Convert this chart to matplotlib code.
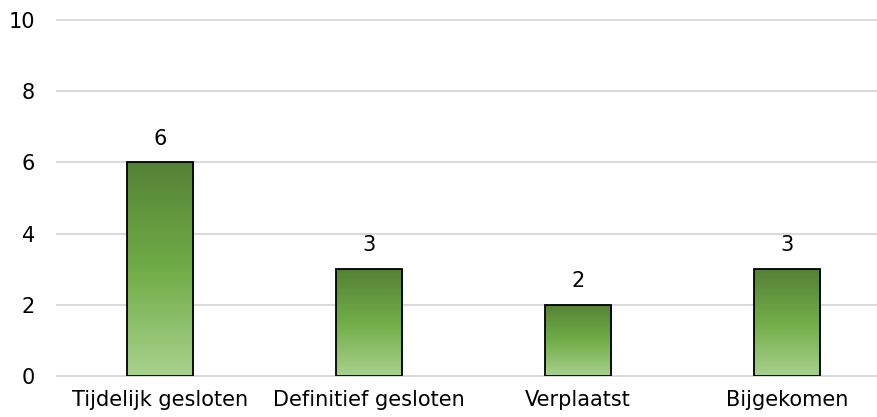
import numpy as np
import matplotlib
matplotlib.use("Agg")
import matplotlib.pyplot as plt
from matplotlib.colors import LinearSegmentedColormap

categories = ["Tijdelijk gesloten", "Definitief gesloten", "Verplaatst", "Bijgekomen"]
values = [6, 3, 2, 3]
yticks = [0, 2, 4, 6, 8, 10]

FS = 15

fig = plt.figure(figsize=(8.77, 4.17), dpi=100)
ax = fig.add_axes([57/877, 1-376/417, (877-57)/877, (376-20)/417])

x = np.arange(len(categories))
bars = ax.bar(x, values, width=0.316, color="none", edgecolor="black", linewidth=1.3, zorder=3)

cmap = LinearSegmentedColormap.from_list("g", ["#a9d18e", "#70ad47", "#548235"])
grad = np.linspace(0, 1, 256).reshape(-1, 1)
for b, v in zip(bars, values):
    x0, y0 = b.get_x(), b.get_y()
    w, h = b.get_width(), b.get_height()
    im = ax.imshow(grad, cmap=cmap, origin="lower", aspect="auto",
                   extent=[x0, x0 + w, y0, y0 + h], zorder=2)
    im.set_clip_path(b)
    ax.annotate(str(v), (x0 + w/2, h), xytext=(0, 10), textcoords="offset points",
                ha="center", va="bottom", fontsize=FS, color="#000000")

ax.set_xlim(-0.493, 3.431)
ax.set_ylim(0, 10)
ax.set_yticks(yticks)
ax.set_xticks(x)
ax.set_xticklabels(categories, fontsize=FS)
ax.tick_params(axis="y", labelsize=FS, length=0, pad=16)
ax.tick_params(axis="x", length=0, pad=10)
ax.grid(axis="y", color="#d9d9d9", linewidth=1.4, zorder=0)
for gl in ax.get_ygridlines():
    gl.set_clip_on(False)
for s in ax.spines.values():
    s.set_visible(False)
ax.set_axisbelow(True)

fig.savefig("out.png", dpi=100)
